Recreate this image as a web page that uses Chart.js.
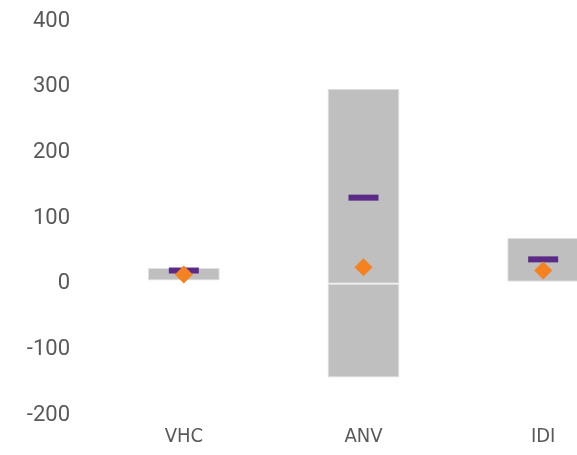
<!DOCTYPE html>
<html>
<head>
<meta charset="utf-8">
<script src="https://cdn.jsdelivr.net/npm/chart.js@4/dist/chart.umd.min.js"></script>
<style>
  html, body { margin: 0; padding: 0; overflow: hidden; background: #fff; }
  #wrap { position: relative; width: 654px; height: 455px; }
  canvas { display: block; }
</style>
</head>
<body>
<div id="wrap"><canvas id="range_chart" width="654" height="455"></canvas></div>
<script>
const categories = ['VHC', 'ANV', 'IDI'];
// grey ranges (low/high), ANV is split at zero
const rangePos = [[5, 24], [0, 297], [3, 70]];
const rangeNeg = [null, [-143, 0], null];
const meanValues = [20, 131, 37];
const lastValues = [14, 25, 20];
const yTicks = [-200, -100, 0, 100, 200, 300, 400];

const TEXT = '#595959';
const GREY = '#bfbfbf';
const EDGE = '#e2e2e2';
const PURPLE = '#5b2a86';
const ORANGE = '#f58220';

let range_chart = false;

const createRangeChart = () => {
  const ctx = document.getElementById('range_chart').getContext('2d');
  range_chart = new Chart(ctx, {
    type: 'bar',
    data: {
      labels: categories,
      datasets: [
        {
          label: 'range',
          data: rangePos,
          backgroundColor: GREY,
          borderColor: EDGE,
          borderWidth: 1,
          borderSkipped: false,
          grouped: false,
          barPercentage: 0.4,
          categoryPercentage: 1,
          order: 3
        },
        {
          label: 'range-',
          data: rangeNeg,
          backgroundColor: GREY,
          borderColor: EDGE,
          borderWidth: 1,
          borderSkipped: false,
          grouped: false,
          barPercentage: 0.4,
          categoryPercentage: 1,
          order: 3
        },
        {
          type: 'line',
          label: 'mean',
          data: meanValues,
          showLine: false,
          pointStyle: 'line',
          pointRadius: 15,
          pointHoverRadius: 15,
          borderColor: PURPLE,
          pointBorderWidth: 6,
          order: 2
        },
        {
          type: 'line',
          label: 'last',
          data: lastValues,
          showLine: false,
          pointStyle: 'rectRot',
          pointRadius: 9,
          pointHoverRadius: 9,
          backgroundColor: ORANGE,
          borderColor: ORANGE,
          pointBorderWidth: 0,
          order: 1
        }
      ]
    },
    options: {
      responsive: false,
      animation: false,
      layout: { padding: { top: 21, right: 0, bottom: -4, left: 0 } },
      plugins: { legend: { display: false }, tooltip: { enabled: false } },
      scales: {
        x: {
          grid: { display: false, drawTicks: false },
          border: { display: false },
          afterFit: (scale) => { scale.paddingLeft = 0; scale.paddingRight = 0; },
          ticks: {
            color: TEXT,
            padding: 10,
            font: { family: "'DejaVu Sans Condensed', sans-serif", size: 20 }
          }
        },
        y: {
          min: yTicks[0],
          max: yTicks[yTicks.length - 1],
          grid: { display: false, drawTicks: false },
          border: { display: false },
          afterFit: (scale) => {
            scale.width = 94;
            scale.paddingTop = 0;
            scale.paddingBottom = 0;
          },
          afterBuildTicks: (scale) => { scale.ticks = yTicks.map(v => ({ value: v })); },
          ticks: {
            color: TEXT,
            padding: 24,
            font: { family: "'Roboto', sans-serif", size: 22 }
          }
        }
      }
    }
  });
};

document.addEventListener('DOMContentLoaded', () => {
  createRangeChart();
});
</script>
</body>
</html>
